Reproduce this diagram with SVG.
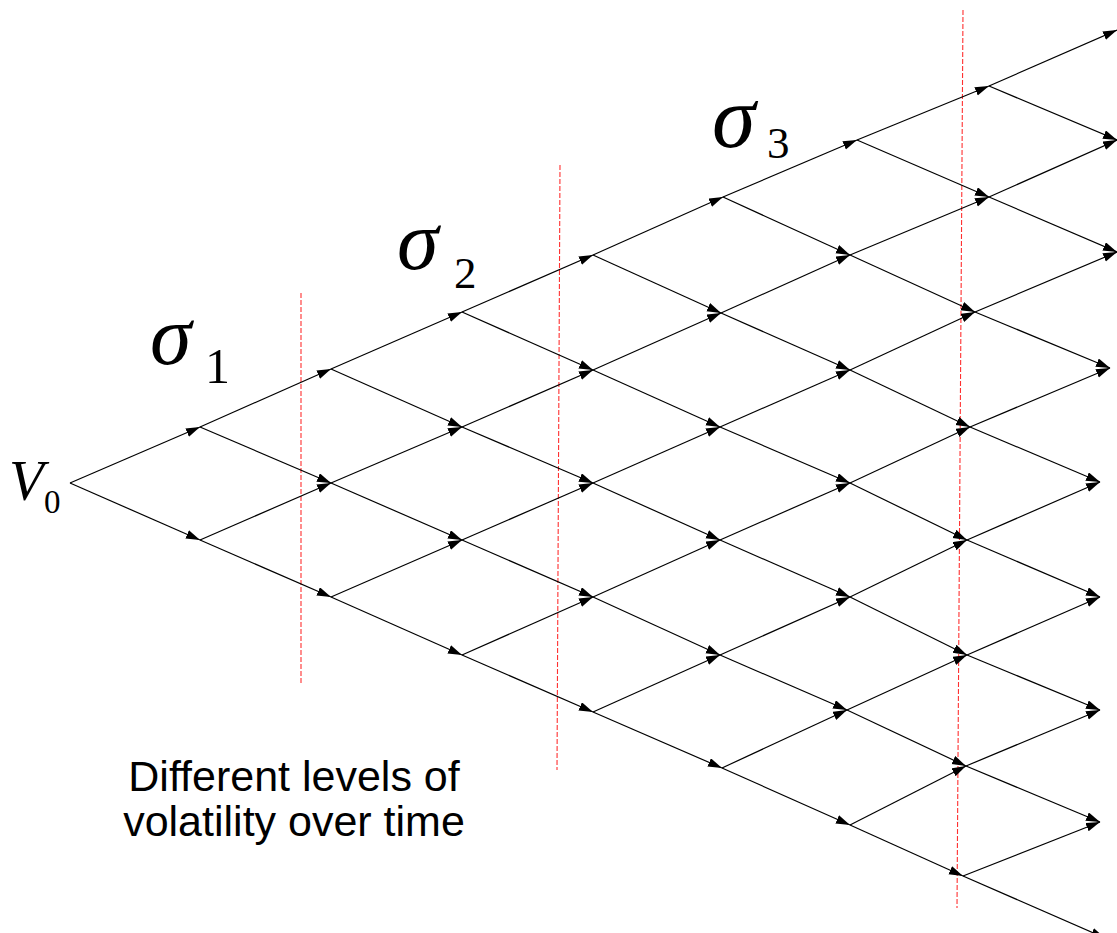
<svg xmlns="http://www.w3.org/2000/svg" width="1117" height="933" viewBox="0 0 1117 933">
<style>
.e{stroke:#000;stroke-width:1.2;fill:none;marker-end:url(#ah)}
.d{stroke:#ff3030;stroke-width:1.1;stroke-dasharray:5,2;fill:none}
.sg{font-family:"Liberation Serif","DejaVu Serif",serif;fill:#000}
.lb{font-family:"Liberation Sans",Arial,sans-serif;font-size:43px;fill:#000}
</style>
<defs>
<marker id="ah" markerUnits="userSpaceOnUse" markerWidth="15" markerHeight="10" refX="14" refY="4.5" orient="auto">
<path d="M0,0 L14,4.5 L0,9 z" fill="#000"/>
</marker>
</defs>
<rect width="1117" height="933" fill="#fff"/>
<g id="timelines">
<line class="d" x1="301" y1="293" x2="301" y2="683"/>
<line class="d" x1="560" y1="165" x2="557" y2="770"/>
<line class="d" x1="963" y1="10" x2="957" y2="908"/>
</g>
<g id="connectors">
<line class="e" x1="70" y1="483" x2="200" y2="427"/>
<line class="e" x1="70" y1="483" x2="200" y2="540"/>
<line class="e" x1="200" y1="427" x2="331" y2="369"/>
<line class="e" x1="200" y1="427" x2="331" y2="483"/>
<line class="e" x1="200" y1="540" x2="331" y2="483"/>
<line class="e" x1="200" y1="540" x2="331" y2="597"/>
<line class="e" x1="331" y1="369" x2="462" y2="312"/>
<line class="e" x1="331" y1="369" x2="462" y2="427"/>
<line class="e" x1="331" y1="483" x2="462" y2="427"/>
<line class="e" x1="331" y1="483" x2="462" y2="540"/>
<line class="e" x1="331" y1="597" x2="462" y2="540"/>
<line class="e" x1="331" y1="597" x2="462" y2="655"/>
<line class="e" x1="462" y1="312" x2="593" y2="255"/>
<line class="e" x1="462" y1="312" x2="593" y2="370"/>
<line class="e" x1="462" y1="427" x2="593" y2="370"/>
<line class="e" x1="462" y1="427" x2="593" y2="483"/>
<line class="e" x1="462" y1="540" x2="593" y2="483"/>
<line class="e" x1="462" y1="540" x2="593" y2="597"/>
<line class="e" x1="462" y1="655" x2="593" y2="597"/>
<line class="e" x1="462" y1="655" x2="593" y2="712"/>
<line class="e" x1="593" y1="255" x2="723" y2="197"/>
<line class="e" x1="593" y1="255" x2="721" y2="313"/>
<line class="e" x1="593" y1="370" x2="721" y2="313"/>
<line class="e" x1="593" y1="370" x2="720" y2="427"/>
<line class="e" x1="593" y1="483" x2="720" y2="427"/>
<line class="e" x1="593" y1="483" x2="720" y2="540"/>
<line class="e" x1="593" y1="597" x2="720" y2="540"/>
<line class="e" x1="593" y1="597" x2="720" y2="655"/>
<line class="e" x1="593" y1="712" x2="720" y2="655"/>
<line class="e" x1="593" y1="712" x2="722" y2="768"/>
<line class="e" x1="723" y1="197" x2="857" y2="140"/>
<line class="e" x1="723" y1="197" x2="850" y2="255"/>
<line class="e" x1="721" y1="313" x2="850" y2="255"/>
<line class="e" x1="721" y1="313" x2="850" y2="370"/>
<line class="e" x1="720" y1="427" x2="850" y2="370"/>
<line class="e" x1="720" y1="427" x2="850" y2="483"/>
<line class="e" x1="720" y1="540" x2="850" y2="483"/>
<line class="e" x1="720" y1="540" x2="850" y2="597"/>
<line class="e" x1="720" y1="655" x2="850" y2="597"/>
<line class="e" x1="720" y1="655" x2="847" y2="710"/>
<line class="e" x1="722" y1="768" x2="847" y2="710"/>
<line class="e" x1="722" y1="768" x2="850" y2="825"/>
<line class="e" x1="857" y1="140" x2="989" y2="86"/>
<line class="e" x1="857" y1="140" x2="989" y2="197"/>
<line class="e" x1="850" y1="255" x2="989" y2="197"/>
<line class="e" x1="850" y1="255" x2="975" y2="312"/>
<line class="e" x1="850" y1="370" x2="975" y2="312"/>
<line class="e" x1="850" y1="370" x2="970" y2="427"/>
<line class="e" x1="850" y1="483" x2="970" y2="427"/>
<line class="e" x1="850" y1="483" x2="967" y2="540"/>
<line class="e" x1="850" y1="597" x2="967" y2="540"/>
<line class="e" x1="850" y1="597" x2="967" y2="655"/>
<line class="e" x1="847" y1="710" x2="967" y2="655"/>
<line class="e" x1="847" y1="710" x2="966" y2="766"/>
<line class="e" x1="850" y1="825" x2="966" y2="766"/>
<line class="e" x1="850" y1="825" x2="963" y2="876"/>
<line class="e" x1="989" y1="86" x2="1117" y2="30"/>
<line class="e" x1="989" y1="86" x2="1117" y2="140"/>
<line class="e" x1="989" y1="197" x2="1117" y2="140"/>
<line class="e" x1="989" y1="197" x2="1117" y2="252"/>
<line class="e" x1="975" y1="312" x2="1117" y2="252"/>
<line class="e" x1="975" y1="312" x2="1110" y2="368"/>
<line class="e" x1="970" y1="427" x2="1110" y2="368"/>
<line class="e" x1="970" y1="427" x2="1100" y2="482"/>
<line class="e" x1="967" y1="540" x2="1100" y2="482"/>
<line class="e" x1="967" y1="540" x2="1100" y2="597"/>
<line class="e" x1="967" y1="655" x2="1100" y2="597"/>
<line class="e" x1="967" y1="655" x2="1100" y2="710"/>
<line class="e" x1="966" y1="766" x2="1100" y2="710"/>
<line class="e" x1="966" y1="766" x2="1100" y2="822"/>
<line class="e" x1="963" y1="876" x2="1100" y2="822"/>
<line class="e" x1="963" y1="876" x2="1105" y2="938"/>
</g>
<g id="v0">
<text class="sg" x="9" y="500" font-size="57" font-style="italic">V</text>
<text class="sg" x="44" y="513" font-size="33">0</text>
</g>
<g id="sigma1">
<text class="sg" x="150" y="364" font-size="84" font-style="italic">σ</text>
<text class="sg" x="205" y="383" font-size="50">1</text>
</g>
<g id="sigma2">
<text class="sg" x="397" y="269" font-size="84" font-style="italic">σ</text>
<text class="sg" x="454" y="288" font-size="45">2</text>
</g>
<g id="sigma3">
<text class="sg" x="712" y="147" font-size="88" font-style="italic">σ</text>
<text class="sg" x="767" y="158" font-size="45">3</text>
</g>
<g id="caption">
<text class="lb" x="294" y="791" text-anchor="middle">Different levels of</text>
<text class="lb" x="294" y="836" text-anchor="middle">volatility over time</text>
</g>
</svg>
